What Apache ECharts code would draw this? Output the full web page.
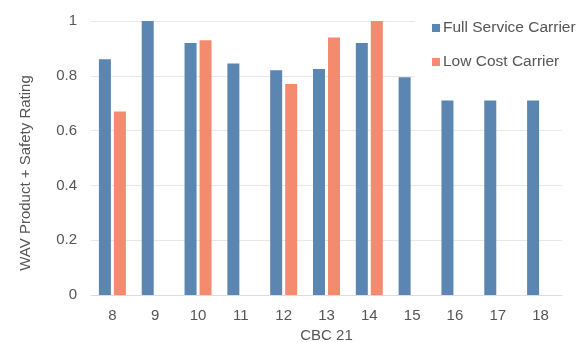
<!DOCTYPE html>
<html>
<head>
<meta charset="utf-8">
<script src="https://cdn.jsdelivr.net/npm/echarts@6/dist/echarts.min.js"></script>
<style>
html,body{margin:0;padding:0;background:#fff;}
#chart{width:583px;height:342px;}
</style>
</head>
<body>
<div id="chart"></div>
<script>
// CBC 21 categories and ratings per carrier type
const categories = ['8','9','10','11','12','13','14','15','16','17','18'];
const fullService = [0.86, 1.0, 0.92, 0.845, 0.82, 0.825, 0.92, 0.795, 0.71, 0.71, 0.71];
const lowCost = [0.67, null, 0.93, null, 0.77, 0.94, 1.0, null, null, null, null];
const yTicks = [0, 0.2, 0.4, 0.6, 0.8, 1];

const textColor = '#555';
const font = 'Liberation Sans, Arial, sans-serif';

const chart = echarts.init(document.getElementById('chart'));
chart.setOption({
  animation: false,
  backgroundColor: '#fff',
  grid: { left: 91, right: 21, top: 21, bottom: 47, outerBoundsMode: 'none', containLabel: false },
  legend: {
    orient: 'vertical',
    left: 415,
    top: 12,
    padding: [8, 0, 30, 17],
    backgroundColor: '#fff',
    itemWidth: 8,
    itemHeight: 8,
    itemGap: 18,
    icon: 'rect',
    textStyle: { color: textColor, fontSize: 15.5, fontFamily: font, padding: [0, 0, 0, -2] },
    data: ['Full Service Carrier', 'Low Cost Carrier']
  },
  xAxis: {
    type: 'category',
    data: categories,
    name: 'CBC 21',
    nameLocation: 'middle',
    nameGap: 31,
    nameTextStyle: { color: textColor, fontSize: 15, fontFamily: font },
    axisLine: { lineStyle: { color: '#ddd' } },
    axisTick: { show: false },
    axisLabel: { color: textColor, fontSize: 15, fontFamily: font, margin: 13 }
  },
  yAxis: {
    type: 'value',
    min: yTicks[0],
    max: yTicks[yTicks.length - 1],
    interval: 0.2,
    name: 'WAV Product + Safety Rating',
    nameLocation: 'middle',
    nameGap: 58,
    nameTextStyle: { color: textColor, fontSize: 15, fontFamily: font, padding: [0, 30, 0, 0] },
    axisLine: { show: false },
    axisTick: { show: false },
    splitLine: { lineStyle: { color: '#e8e8e8' } },
    axisLabel: { color: textColor, fontSize: 15, fontFamily: font, margin: 14 }
  },
  series: [
    {
      name: 'Full Service Carrier',
      type: 'bar',
      data: fullService,
      barWidth: 12,
      barGap: '25%',
      itemStyle: { color: '#5b86b1' }
    },
    {
      name: 'Low Cost Carrier',
      type: 'bar',
      data: lowCost,
      barWidth: 12,
      barGap: '25%',
      itemStyle: { color: '#f48b6f' }
    }
  ]
});
</script>
</body>
</html>
